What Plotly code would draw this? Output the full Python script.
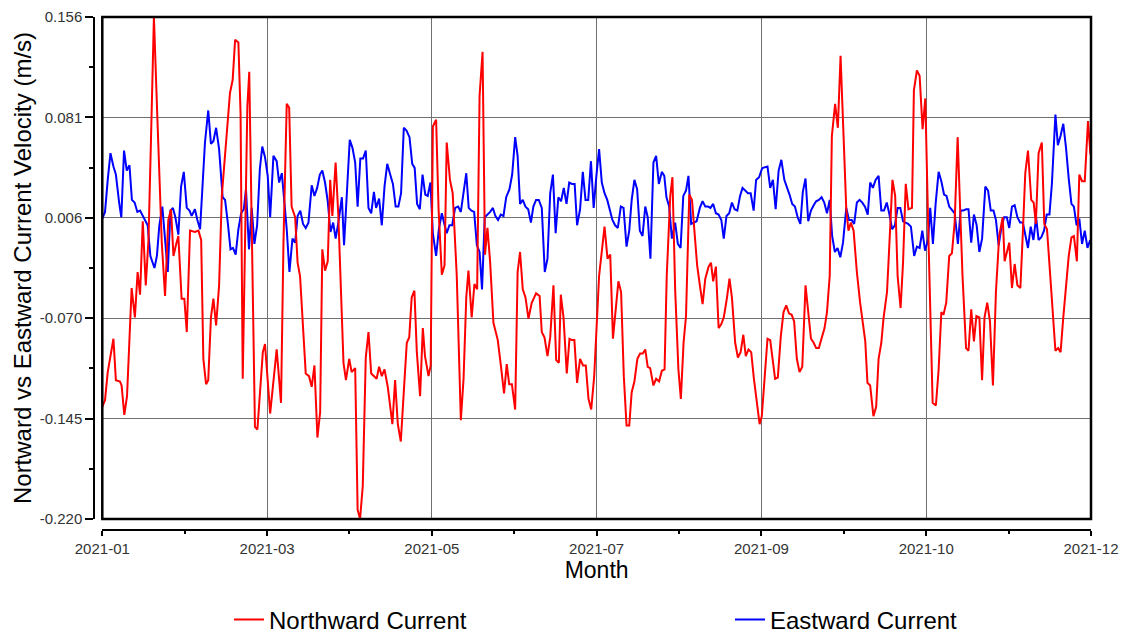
import numpy as np
import plotly.graph_objects as go

# ---------------- data ----------------
# day index from 2021-01 (0) to 2021-12 (364)
north_day = [
    0.0, 1.0, 2.0, 4.1, 5.0, 6.5, 7.1, 8.1, 9.1, 10.8, 12.0, 13.0, 13.9, 14.9, 16.0, 17.0, 17.9, 19.0,
    20.3, 21.9, 23.1, 24.3, 25.3, 26.2, 27.1, 28.0, 29.2, 30.2, 31.1, 32.3, 34.1, 35.4, 36.4, 37.2,
    38.2, 39.0, 40.0, 40.9, 41.9, 43.0, 44.0, 45.4, 47.0, 48.0, 48.9, 50.1, 50.9, 51.7, 52.7, 53.4,
    54.1, 55.0, 56.2, 57.1, 58.1, 59.1,
    59.9, 61.8, 64.2, 65.8, 66.7, 67.9, 68.8, 69.7, 71.0, 71.9, 72.8, 74.9, 76.1, 77.1, 78.1, 79.2,
    80.2, 81.0, 82.0, 83.0, 83.9, 84.7, 85.9, 86.9, 88.8, 89.7, 90.9, 91.8, 93.1, 94.0, 94.9, 95.9,
    97.0, 98.0, 99.0, 100.2, 101.0, 101.9, 102.9, 103.9, 105.1, 106.8, 107.8, 108.8, 109.9, 111.2,
    112.1, 113.0, 113.9, 114.9, 115.8, 117.0, 118.0, 118.8, 120.1, 120.9,
    121.7, 122.9, 123.8, 125.0, 126.0, 126.8, 128.0, 129.0, 130.5, 132.0, 133.0, 134.0, 134.8, 136.0,
    137.0, 138.0, 138.9, 140.0, 140.9, 141.8, 142.8, 144.0, 145.6, 146.8, 147.9, 148.9, 149.8, 150.8,
    152.0, 152.9, 153.8, 154.8, 155.8, 156.9, 158.1, 159.7, 161.0, 161.8, 162.8, 163.9, 164.9, 166.1,
    167.1, 168.1, 168.8, 169.8, 171.0, 172.0, 172.9, 173.8, 174.8, 175.9, 177.0, 178.0, 179.0, 180.0,
    181.1,
    182.9, 183.9, 184.9, 186.0, 187.0, 188.0, 189.1, 190.0, 191.0, 192.0, 193.0, 194.0, 194.9, 195.9,
    197.0, 198.0, 199.0, 199.9, 200.8, 201.7, 202.9, 203.9, 205.0, 206.0, 207.0, 207.8, 209.1, 209.9,
    210.9, 212.1, 213.0, 214.0, 214.9, 216.1, 217.1, 218.0, 219.0, 220.0, 221.0, 222.0, 223.2, 224.1,
    224.9, 225.9, 226.9, 227.9, 228.8, 230.0, 230.9, 231.8, 233.0, 234.0, 235.0, 236.0, 236.9, 237.9,
    238.9, 239.9, 241.0, 242.0, 242.8,
    243.4, 244.9, 245.9, 246.9, 247.7, 248.7, 249.8, 250.8, 251.8, 252.8, 253.8, 254.7, 255.7, 256.7,
    257.7, 258.9, 260.0, 260.9, 261.9, 262.8, 263.8, 264.9, 265.9, 266.8, 267.8, 268.6, 269.8, 270.8,
    271.8, 272.9, 273.9, 274.7, 275.6, 276.6, 277.8, 279.0, 280.3, 280.9, 281.7, 282.7, 283.9, 284.9,
    285.8, 286.8, 287.6, 288.9, 289.8, 290.9, 291.9, 292.8, 293.9, 294.8, 295.8, 296.8, 298.1, 298.8,
    299.9, 300.9, 302.0, 303.0,
    304.2, 305.7, 306.9, 307.9, 308.9, 309.7, 310.7, 311.8, 312.8, 313.8, 314.9, 315.9, 316.7, 318.0,
    318.9, 319.9, 320.9, 321.8, 322.9, 323.9, 324.8, 325.8, 326.8, 327.9, 329.0, 330.2, 331.5, 332.2,
    333.1, 333.9, 334.9, 335.9, 336.9, 338.0, 338.9, 339.8, 340.8, 342.0, 342.9, 343.7, 344.7, 345.9,
    346.8, 347.8, 349.0, 349.9, 350.9, 351.9, 352.8, 353.8, 354.8, 355.8, 356.8, 357.7, 358.8, 359.7,
    360.7, 361.7, 362.9, 363.8,
]
north_vel = [
    -0.136, -0.131, -0.110, -0.085, -0.116, -0.117, -0.120, -0.142, -0.128, -0.047, -0.069, -0.035, -0.052, 0.003, -0.045, -0.011, 0.062, 0.156,
    0.079, -0.013, -0.053, 0.004, 0.012, -0.023, -0.015, -0.008, -0.055, -0.055, -0.080, -0.004, -0.005, -0.004, -0.011, -0.100,
    -0.119, -0.116, -0.069, -0.055, -0.075, -0.045, 0.022, 0.057, 0.099, 0.109, 0.139, 0.137, 0.084, -0.115, 0.012, 0.089,
    0.115, 0.012, -0.151, -0.153, -0.125, -0.095,
    -0.089, -0.141, -0.093, -0.133, -0.013, 0.091, 0.088, 0.014, 0.006, -0.028, -0.038, -0.111, -0.113, -0.121, -0.105, -0.159,
    -0.140, -0.018, -0.034, -0.027, 0.034, 0.007, 0.047, 0.007, -0.103, -0.116, -0.100, -0.110, -0.107, -0.213, -0.220, -0.195,
    -0.099, -0.080, -0.111, -0.113, -0.115, -0.106, -0.113, -0.108, -0.121, -0.149, -0.116, -0.149, -0.162, -0.118,
    -0.088, -0.084, -0.054, -0.049, -0.095, -0.128, -0.077, -0.098, -0.113, -0.105,
    0.074, 0.079, 0.012, -0.037, -0.030, 0.062, 0.034, 0.024, -0.038, -0.146, -0.115, -0.054, -0.034, -0.069,
    -0.044, -0.048, 0.097, 0.130, -0.022, -0.002, -0.028, -0.073, -0.086, -0.106, -0.126, -0.104, -0.119, -0.119,
    -0.138, -0.035, -0.020, -0.048, -0.054, -0.070, -0.058, -0.051, -0.053, -0.080, -0.084, -0.098, -0.084, -0.045,
    -0.101, -0.103, -0.052, -0.069, -0.111, -0.085, -0.086, -0.086, -0.118, -0.100, -0.105, -0.105, -0.130, -0.138,
    -0.113,
    -0.038, -0.018, -0.001, -0.025, -0.022, -0.085, -0.064, -0.042, -0.050, -0.113, -0.150, -0.150, -0.125, -0.117,
    -0.100, -0.096, -0.096, -0.093, -0.106, -0.107, -0.120, -0.115, -0.117, -0.109, -0.108, -0.038, 0.022, 0.036,
    -0.048, -0.108, -0.130, -0.088, -0.068, 0.023, 0.019, -0.008, -0.030, -0.045, -0.059, -0.040, -0.031, -0.028,
    -0.042, -0.031, -0.077, -0.074, -0.069, -0.054, -0.040, -0.054, -0.088, -0.099, -0.095, -0.082, -0.098, -0.093,
    -0.095, -0.115, -0.133, -0.149, -0.143,
    -0.125, -0.085, -0.086, -0.100, -0.115, -0.114, -0.083, -0.065, -0.060, -0.066, -0.067, -0.072, -0.100, -0.110,
    -0.106, -0.045, -0.068, -0.085, -0.088, -0.092, -0.092, -0.083, -0.077, -0.065, -0.038, 0.067, 0.091, 0.073,
    0.127, 0.067, 0.012, -0.004, 0.002, -0.004, -0.035, -0.058, -0.079, -0.087, -0.118, -0.120, -0.143, -0.136,
    -0.100, -0.088, -0.070, -0.050, -0.013, 0.034, 0.022, -0.038, -0.062, -0.028, 0.031, 0.012, 0.013, 0.101,
    0.116, 0.112, 0.072, 0.095,
    -0.013, -0.133, -0.135, -0.108, -0.065, -0.067, -0.058, -0.023, -0.021, 0.002, 0.066, 0.004, -0.038, -0.092,
    -0.094, -0.063, -0.087, -0.068, -0.069, -0.116, -0.069, -0.058, -0.072, -0.120, -0.050, -0.008, 0.006, -0.027,
    -0.019, -0.013, -0.047, -0.029, -0.045, -0.047, -0.006, 0.039, 0.056, 0.019, 0.017, 0.001, 0.054, 0.062,
    0.001, -0.003, -0.038, -0.067, -0.094, -0.092, -0.095, -0.069, -0.047, -0.023, -0.009, -0.008, -0.027, 0.038,
    0.033, 0.033, 0.078, 0.053,
]

east_day = [
    0.0, 1.0, 2.0, 3.0, 4.1, 5.0, 6.2, 7.0, 8.0, 9.0, 10.0, 10.9, 11.9, 12.9, 13.9, 14.9, 15.7, 16.7,
    17.7, 19.2, 20.1, 21.0, 22.1, 23.1, 24.1, 25.1, 26.0, 26.9, 28.0, 29.0, 30.0, 31.1, 32.1, 32.9,
    34.1, 35.0, 36.0, 37.8, 39.0, 40.0, 40.9, 41.9, 43.0, 44.3, 45.2, 46.2, 47.2, 48.1, 49.1, 50.1,
    51.1, 52.1, 52.9, 54.0, 55.0, 56.0, 57.0, 58.0, 58.9, 59.9,
    60.9, 61.8, 63.0, 64.2, 65.1, 66.1, 66.9, 67.9, 68.9, 70.0, 71.0, 71.9, 72.9, 73.9, 74.9, 75.9,
    77.1, 78.1, 79.1, 80.1, 81.0, 82.0, 83.0, 84.0, 85.0, 85.9, 86.9, 88.2, 89.0, 90.0, 91.1, 92.1,
    93.1, 94.0, 95.0, 96.0, 97.0, 98.0, 99.0, 100.0, 100.8, 101.9, 102.9, 103.9, 104.9, 106.0, 107.0,
    108.0, 109.0, 110.0, 111.0, 112.0, 113.1, 114.1, 115.0, 115.9, 116.9, 117.9, 118.9, 119.8, 120.8,
    121.7, 122.9, 123.9, 125.0, 125.8, 126.8, 127.8, 128.8, 129.9, 131.0, 132.0, 133.0, 134.0, 134.9,
    135.9, 136.9, 137.9, 138.9, 139.8, 140.8, 141.8, 142.8, 143.8, 144.7, 145.7, 146.7, 147.7, 148.7,
    149.9, 150.9, 152.0, 152.9, 153.8, 154.8, 155.8, 156.8, 157.8, 158.7, 159.7, 160.7, 161.8, 162.9,
    163.9, 164.9, 165.9, 166.9, 167.9, 168.9, 169.9, 170.9, 171.9, 172.9, 173.9, 174.8, 175.9, 176.9,
    177.9, 178.9, 179.9, 180.9, 181.9, 182.9,
    183.9, 184.9, 185.9, 186.9, 187.8, 188.8, 189.8, 190.9, 191.9, 193.0, 194.0, 194.9, 195.9, 196.9,
    197.9, 198.9, 199.9, 200.8, 201.8, 202.9, 203.9, 204.9, 206.0, 206.9, 207.7, 208.7, 209.7, 210.9,
    211.9, 212.9, 213.9, 214.9, 215.8, 216.8, 217.8, 218.8, 220.0, 221.0, 222.0, 223.0, 223.9, 224.9,
    225.9, 226.9, 227.9, 228.8, 229.8, 230.8, 231.8, 232.8, 233.8, 234.8, 235.7, 236.7, 237.7, 238.7,
    239.8, 240.7, 241.8, 242.8,
    243.2, 244.9, 245.9, 246.9, 247.9, 249.0, 250.0, 251.1, 252.0, 253.0, 254.0, 255.0, 256.0, 257.0,
    257.9, 258.9, 259.9, 260.9, 261.9, 262.8, 263.8, 264.8, 265.8, 266.8, 267.8, 268.7, 269.7, 270.7,
    271.7, 272.7, 273.9, 274.9, 275.9, 276.8, 277.8, 278.8, 279.8, 280.8, 281.8, 282.7, 283.7, 284.7,
    285.8, 286.8, 287.8, 288.8, 289.7, 290.8, 291.8, 292.8, 293.8, 294.8, 295.7, 296.7, 297.7, 298.9,
    299.9, 300.9, 301.9, 302.9,
    304.0, 304.8, 305.8, 306.8, 307.9, 308.9, 309.9, 310.8, 311.8, 312.8, 313.8, 315.0, 316.0, 317.0,
    318.0, 318.9, 319.9, 320.9, 321.9, 322.9, 323.9, 325.1, 326.1, 327.1, 328.1, 329.0, 330.0, 331.0,
    332.0, 333.0, 333.9, 334.9, 335.9, 336.9, 337.9, 338.9, 339.8, 340.8, 341.8, 342.8, 343.8, 344.7,
    345.7, 346.7, 347.7, 348.7, 349.6, 350.9, 351.8, 352.8, 353.8, 354.8, 355.8, 356.8, 357.7, 358.7,
    359.7, 360.7, 361.7, 362.7, 363.7,
]
east_vel = [
    0.005, 0.010, 0.034, 0.054, 0.044, 0.038, 0.017, 0.006, 0.056, 0.041, 0.045, 0.019, 0.017, 0.010, 0.011, 0.007, 0.003, 0.000,
    -0.023, -0.032, -0.023, 0.000, 0.014, -0.008, -0.035, 0.011, 0.013, 0.006, -0.007, 0.029, 0.040, 0.013, 0.011, 0.007,
    0.012, 0.004, -0.003, 0.062, 0.086, 0.061, 0.063, 0.073, 0.057, 0.021, 0.019, 0.002, -0.018, -0.017, -0.022, -0.003,
    0.009, 0.012, 0.027, -0.018, 0.013, -0.014, 0.000, 0.042, 0.059, 0.051,
    0.037, 0.006, 0.052, 0.048, 0.032, 0.039, 0.022, -0.003, -0.035, -0.010, -0.013, 0.007, 0.011, 0.001, -0.002, 0.002,
    0.030, 0.022, 0.028, 0.038, 0.041, 0.032, 0.018, -0.005, 0.002, -0.010, 0.002, 0.021, -0.015, 0.027, 0.064, 0.058,
    0.047, 0.014, 0.050, 0.050, 0.056, 0.013, 0.009, 0.025, 0.013, 0.020, 0.000, 0.029, 0.046, 0.038, 0.031,
    0.014, 0.014, 0.024, 0.073, 0.071, 0.066, 0.046, 0.043, 0.016, 0.012, 0.038, 0.023, 0.022, 0.032,
    -0.006, -0.023, -0.003, 0.009, 0.002, -0.006, 0.000, 0.000, 0.013, 0.014, 0.010, 0.023, 0.039, 0.013,
    0.011, 0.010, -0.015, -0.020, -0.048, 0.006, 0.008, 0.010, 0.013, 0.007, 0.004, 0.008, 0.007, 0.021,
    0.027, 0.038, 0.066, 0.052, 0.016, 0.019, 0.014, 0.012, 0.002, 0.014, 0.019, 0.019, 0.013, -0.035,
    -0.025, 0.024, 0.038, -0.006, 0.021, 0.018, 0.028, 0.016, 0.032, 0.031, 0.031, 0.000, 0.012, 0.040,
    0.019, 0.019, 0.048, 0.013, 0.037, 0.057,
    0.032, 0.024, 0.019, 0.012, 0.004, 0.000, -0.002, 0.014, 0.013, -0.016, -0.004, 0.019, 0.034, 0.027,
    -0.004, -0.008, 0.014, 0.006, -0.025, 0.047, 0.052, 0.031, 0.040, 0.037, 0.021, 0.014, -0.010, 0.002,
    -0.014, -0.017, 0.022, 0.026, 0.037, 0.001, 0.002, 0.003, 0.013, 0.018, 0.014, 0.014, 0.013, 0.016,
    0.009, 0.008, 0.004, -0.010, 0.007, 0.009, 0.017, 0.012, 0.011, 0.022, 0.028, 0.026, 0.024, 0.024,
    0.011, 0.034, 0.036, 0.042,
    0.043, 0.044, 0.028, 0.034, 0.012, 0.041, 0.049, 0.034, 0.029, 0.023, 0.016, 0.014, 0.006, 0.001,
    0.025, 0.035, 0.003, 0.011, 0.015, 0.018, 0.019, 0.021, 0.017, 0.009, 0.019, -0.008, -0.020, -0.017,
    -0.024, -0.013, 0.013, 0.004, 0.004, 0.001, 0.017, 0.019, 0.017, 0.014, 0.008, 0.032, 0.028, 0.034,
    0.037, 0.011, 0.011, 0.017, 0.009, -0.003, 0.000, 0.013, 0.013, 0.003, 0.002, 0.001, -0.001, -0.023,
    -0.016, -0.017, -0.004, -0.019,
    -0.011, 0.013, -0.014, 0.016, 0.040, 0.033, 0.023, 0.022, 0.014, 0.011, 0.009, -0.014, 0.011, 0.011,
    0.012, 0.012, -0.013, 0.008, 0.000, -0.020, -0.010, 0.029, 0.026, 0.011, 0.011, 0.004, -0.015, -0.002,
    0.006, 0.006, -0.002, 0.014, 0.015, 0.006, 0.002, 0.002, -0.006, -0.017, -0.001, -0.011, 0.006, -0.011,
    -0.009, -0.004, 0.008, 0.008, 0.031, 0.083, 0.060, 0.067, 0.076, 0.058, 0.035, 0.016, 0.014, 0.000,
    0.005, -0.014, -0.004, -0.017, -0.011,
]

x_tick_labels = ["2021-01", "2021-03", "2021-05", "2021-07", "2021-09", "2021-10", "2021-12"]
y_tick_values = [-0.2200, -0.1448, -0.0696, 0.0056, 0.0808, 0.1560]
y_tick_labels = ["-0.220", "-0.145", "-0.070", "0.006", "0.081", "0.156"]

# ---------------- figure ----------------
x_min, x_max = 0, 364
x_tick_pos = list(np.linspace(x_min, x_max, len(x_tick_labels)))
x_minor = [(a + b) / 2 for a, b in zip(x_tick_pos[:-1], x_tick_pos[1:])]
y_minor = [(a + b) / 2 for a, b in zip(y_tick_values[:-1], y_tick_values[1:])]

FONT = "Liberation Sans, Arial, Helvetica, sans-serif"

fig = go.Figure()
fig.add_trace(go.Scatter(
    x=east_day, y=east_vel, mode="lines", name="Eastward Current",
    line=dict(color="#0000FF", width=2), legend="legend2",
))
fig.add_trace(go.Scatter(
    x=north_day, y=north_vel, mode="lines", name="Northward Current",
    line=dict(color="#FF0000", width=2), legend="legend",
))

W, H = 1127, 633
ml, mr, mt, mb = 94, 36, 17, 103
pw = W - ml - mr
ph = H - mt - mb
plot_left_px = 102.3
plot_bottom_px = 519.0
legend_y = (H - mb - 620) / ph

legend_common = dict(
    orientation="h", xanchor="left", y=legend_y, yanchor="middle",
    font=dict(size=24, color="#000000", family=FONT),
    bgcolor="rgba(0,0,0,0)",
)

fig.update_layout(
    width=W, height=H, autosize=False,
    margin=dict(l=ml, r=mr, t=mt, b=mb, pad=0, autoexpand=False),
    paper_bgcolor="white", plot_bgcolor="white",
    font=dict(family=FONT, color="#000000"),
    showlegend=True,
    legend=dict(x=(229 - ml) / pw, **legend_common),
    legend2=dict(x=(730 - ml) / pw, **legend_common),
    xaxis=dict(
        domain=[(plot_left_px - ml) / pw, 1],
        anchor="free", position=0,
        range=[x_min, x_max],
        tickmode="array", tickvals=x_tick_pos, ticktext=x_tick_labels,
        ticks="outside", ticklen=5, tickwidth=1.5, tickcolor="#000000",
        showline=True, linecolor="#000000", linewidth=1.5,
        showgrid=True, gridcolor="#707070", gridwidth=1,
        zeroline=False,
        tickfont=dict(size=15, color="#333333", family=FONT),
        minor=dict(tickmode="array", tickvals=x_minor, ticks="outside", ticklen=3,
                   tickwidth=1.5, tickcolor="#000000", showgrid=False),
        title=dict(text="Month", font=dict(size=23, color="#000000", family=FONT), standoff=4),
    ),
    yaxis=dict(
        domain=[(H - mb - plot_bottom_px) / ph, 1],
        anchor="free", position=0,
        range=[y_tick_values[0], y_tick_values[-1]],
        tickmode="array", tickvals=y_tick_values, ticktext=y_tick_labels,
        ticks="outside", ticklen=8, tickwidth=1.5, tickcolor="#000000",
        showline=True, linecolor="#000000", linewidth=1.5,
        showgrid=True, gridcolor="#707070", gridwidth=1,
        zeroline=False,
        tickfont=dict(size=15, color="#333333", family=FONT),
        minor=dict(tickmode="array", tickvals=y_minor, ticks="outside", ticklen=4,
                   tickwidth=1.5, tickcolor="#000000", showgrid=False),
        title=dict(text="Nortward vs Eastward Current Velocity (m/s)",
                   font=dict(size=24, color="#000000", family=FONT), standoff=0),
    ),
    shapes=[dict(type="rect", xref="x domain", yref="y domain", x0=0, x1=1, y0=0, y1=1,
                 line=dict(color="#000000", width=2.5), fillcolor="rgba(0,0,0,0)", layer="above")],
)

fig.write_html("out.html")
